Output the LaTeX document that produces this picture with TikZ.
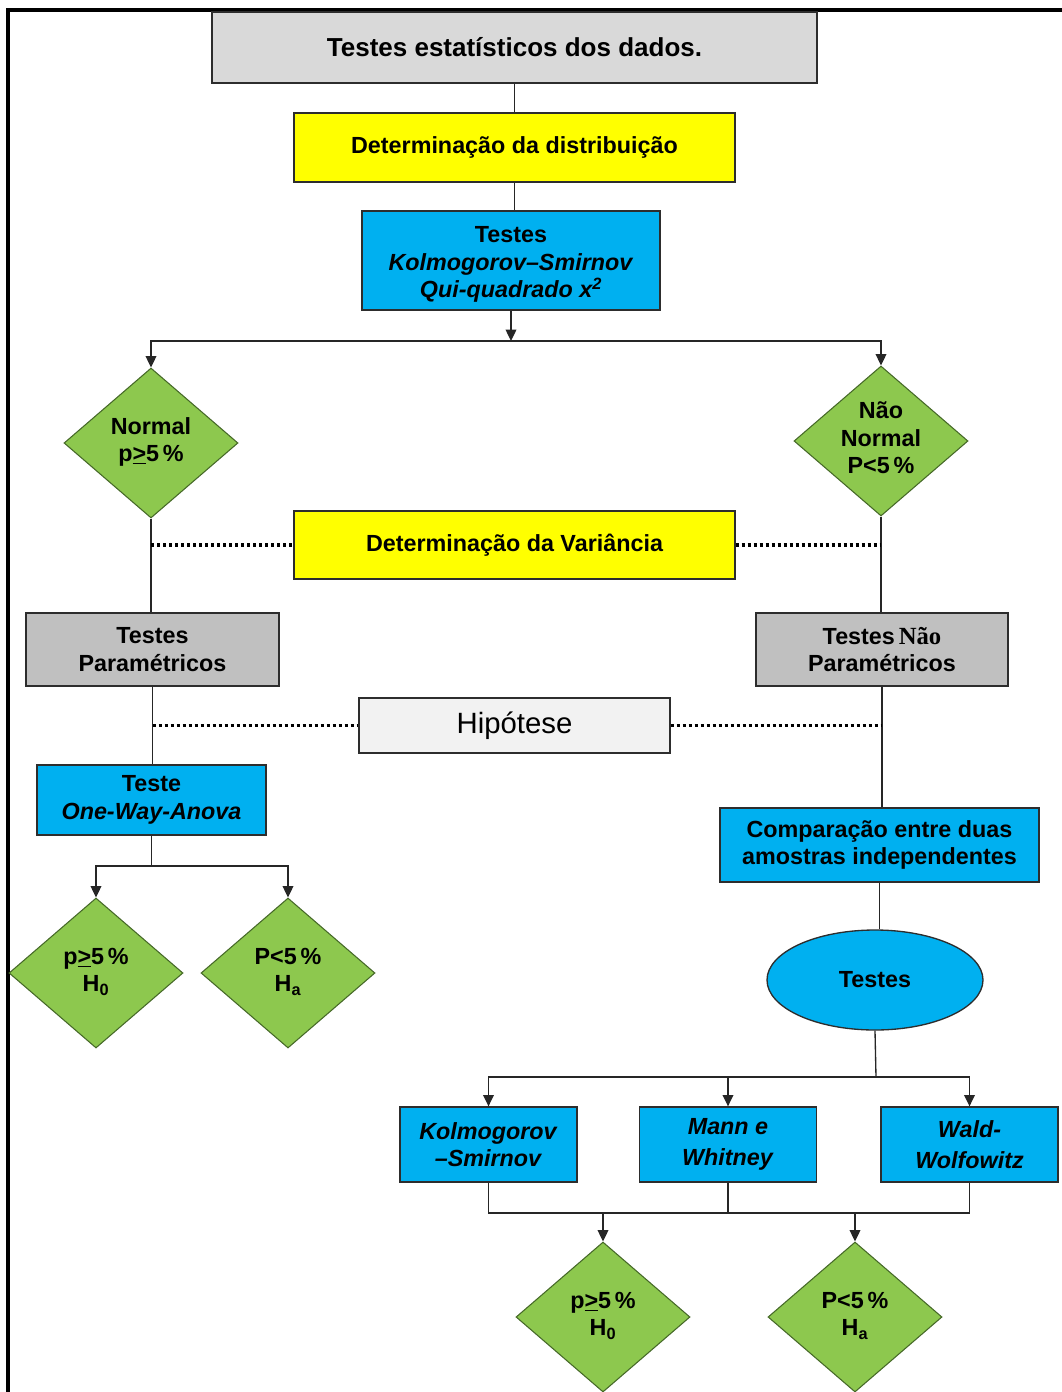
\documentclass[tikz,border=0pt]{standalone}
\usepackage{fontspec}
\setmainfont{Liberation Sans}
\newfontfamily\timesfont{Liberation Serif}
\usetikzlibrary{arrows.meta,shapes.geometric}

\definecolor{topgray}{RGB}{217,217,217}
\definecolor{pargray}{RGB}{192,192,192}
\definecolor{hipgray}{RGB}{242,242,242}
\definecolor{ylw}{RGB}{255,255,0}
\definecolor{skyblue}{RGB}{0,176,240}
\definecolor{leaf}{RGB}{141,200,78}
\definecolor{leafedge}{RGB}{70,105,40}
\definecolor{edgegray}{RGB}{45,45,45}

\newcommand\mainsize{\fontsize{17.5}{20.6}\selectfont\bfseries}
% diamond text: centred, takes no room so the diamond keeps its own size
\newcommand\dtext[1]{\makebox[0pt]{\smash{\raisebox{-4pt}{\begin{tabular}{@{}c@{}}#1\end{tabular}}}}}

\begin{document}
\begin{tikzpicture}[x=0.75pt,y=-0.75pt,
  box/.style={draw=edgegray, line width=1pt, rectangle, inner sep=2pt,
              align=center, font=\mainsize},
  bluebox/.style={box, fill=skyblue},
  testbox/.style={bluebox, minimum width=132.75pt, minimum height=56.25pt},
  dia/.style={diamond, draw=leafedge, line width=0.8pt, fill=leaf,
              minimum width=130.5pt, minimum height=112.5pt, inner sep=0pt,
              font=\mainsize},
  conn/.style={line width=1pt, draw=black!85},
  arr/.style={conn, -{Triangle[length=8.5pt,width=8pt]}},
  dots/.style={line width=2.6pt, dash pattern=on 2.4pt off 2.1pt}
]
\useasboundingbox (0,0) rectangle (1062,1392);

% outer frame (left and top edges)
\draw[line width=2.3pt] (8,1392) -- (8,10) -- (1062,10);

% top of the chart
\node[box, fill=topgray, minimum width=453.75pt, minimum height=53.25pt,
      font=\fontsize{19.5}{23}\selectfont\bfseries] (top) at (514.5,47.5)
      {Testes estatísticos dos dados.};
\node[box, fill=ylw, minimum width=330.75pt, minimum height=51.75pt] (distr)
      at (514.5,147.5) {Determinação da distribuição};
\node[bluebox, minimum width=223.5pt, minimum height=74.25pt] (ks) at (511,260.5)
      {\rule{0pt}{18.5pt}Testes\\\textit{Kolmogorov–Smirnov}\\\textit{Qui-quadrado x\textsuperscript{2}}};

\draw[conn] (top.south) -- (top.south |- distr.north);
\draw[conn] (distr.south) -- (distr.south |- ks.north);

% distribution outcome
\coordinate (split) at (511,341);
\node[dia] (normal) at (151,443) {\dtext{Normal\\p\underline{>}5\,\%}};
\node[dia] (nnormal) at (881,441) {\dtext{Não\\Normal\\P<5\,\%}};

\draw[arr] (ks.south) -- (split);
\draw[arr] (split) -| (normal.north);
\draw[arr] (split) -| (nnormal.north);

% variance and test families
\node[box, fill=ylw, minimum width=330.75pt, minimum height=51pt] (var)
      at (514.5,545) {Determinação da Variância};
\node[box, fill=pargray, minimum width=189.75pt, minimum height=54.75pt] (parL)
      at (152.5,649.5) {Testes\\Paramétricos};
\node[box, fill=pargray, minimum width=189pt, minimum height=54.75pt] (parR)
      at (882,649.5) {Testes\,{\timesfont\bfseries\fontsize{18.5}{20.6}\selectfont Não}\\Paramétricos};

\draw[conn] (normal.south) -- (normal.south |- parL.north);
\draw[conn] (nnormal.south) -- (nnormal.south |- parR.north);
\draw[dots] (normal.south |- var.west) -- (var.west);
\draw[dots] (var.east) -- (nnormal.south |- var.east);

% hypothesis
\node[box, fill=hipgray, minimum width=233.25pt, minimum height=41.25pt,
      font=\fontsize{22}{26}\selectfont] (hip) at (514.5,725.5) {Hipótese};

% parametric branch
\node[bluebox, minimum width=171.75pt, minimum height=52.5pt] (anova)
      at (151.5,800) {Teste\\\textit{One-Way-Anova}};
\node[dia] (h0L) at (96,973) {\dtext{p\underline{>}5\,\%\\H\textsubscript{0}}};
\node[dia] (haL) at (288,973) {\dtext{P<5\,\%\\H\textsubscript{a}}};

\draw[conn] (parL.south) -- (parL.south |- anova.north);
\draw[dots] (parL.south |- hip.west) -- (hip.west);
\coordinate (splitL) at (151.5,866);
\draw[conn] (anova.south) -- (splitL);
\draw[arr] (splitL) -| (h0L.north);
\draw[arr] (splitL) -| (haL.north);

% non-parametric branch
\node[bluebox, minimum width=239.25pt, minimum height=55.5pt] (comp)
      at (879.5,845) {Comparação entre duas\\amostras independentes};
\node[ellipse, draw=edgegray, line width=1pt, fill=skyblue, minimum width=162pt,
      minimum height=75pt, font=\mainsize] (ell) at (875,980) {Testes};

\draw[conn] (parR.south) -- (parR.south |- comp.north);
\draw[dots] (hip.east) -- (parR.south |- hip.east);
\draw[conn] (comp.south) -- (comp.south |- ell.north);

\node[testbox] (kolm) at (488.5,1144.5) {\textit{Kolmogorov}\\\textit{–Smirnov}};
\node[testbox] (mann) at (728,1144.5) {\textit{Mann e}\\[3pt]\textit{Whitney}};
\node[testbox] (wald) at (969.5,1144.5) {\textit{Wald-}\\[3pt]\textit{Wolfowitz}};

\coordinate (splitR) at (876,1077);
\draw[conn] (ell.south) -- (splitR);
\draw[arr] (splitR) -| (kolm.north);
\draw[arr] (splitR) -| (mann.north);
\draw[arr] (splitR) -| (wald.north);

% joined results
\node[dia] (h0B) at (603,1317) {\dtext{p\underline{>}5\,\%\\H\textsubscript{0}}};
\node[dia] (haB) at (855,1317) {\dtext{P<5\,\%\\H\textsubscript{a}}};

\coordinate (join) at (728,1213);
\draw[conn] (kolm.south) -- (kolm.south |- join) -- (wald.south |- join) -- (wald.south);
\draw[conn] (mann.south) -- (join);
\draw[arr] (h0B.north |- join) -- (h0B.north);
\draw[arr] (haB.north |- join) -- (haB.north);
\end{tikzpicture}
\end{document}
